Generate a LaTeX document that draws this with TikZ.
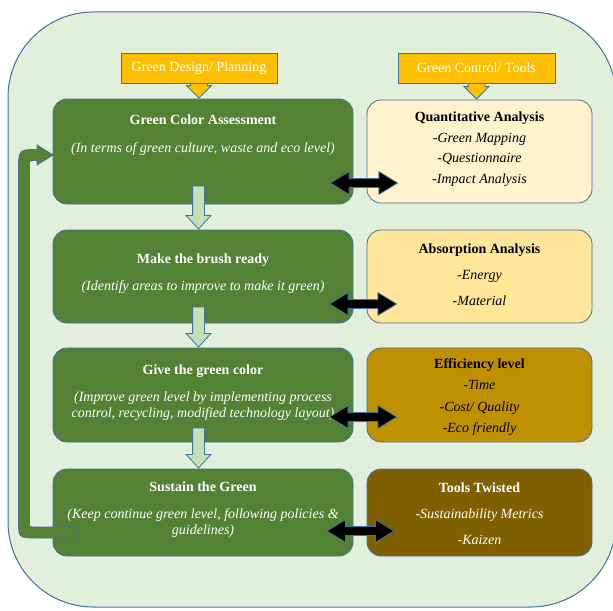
\documentclass[tikz,border=0pt]{standalone}
\usepackage{fontspec}
\setmainfont{Liberation Serif}
\usetikzlibrary{shapes.arrows}
\definecolor{outerfill}{HTML}{E2EFDA}
\definecolor{edgeblue}{HTML}{41719C}
\definecolor{leaf}{HTML}{548235}
\definecolor{gold}{HTML}{FFC000}
\definecolor{mint}{HTML}{C5E0B4}
\definecolor{sandA}{HTML}{FFF2CC}
\definecolor{sandB}{HTML}{FFE699}
\definecolor{sandC}{HTML}{BF9000}
\definecolor{sandD}{HTML}{7F6000}
\newcommand{\px}{0.75pt}
\begin{document}
\begin{tikzpicture}[x=0.75pt,y=-0.75pt,
  box/.style={draw=edgeblue,line width=0.6pt,rounded corners=10.5pt,minimum width=300*\px,inner sep=0},
  greenbox/.style={box,fill=leaf},
  toolbox/.style={box,minimum width=225*\px},
  headbox/.style={draw=edgeblue,line width=0.6pt,fill=gold,text=white,minimum width=156*\px,minimum height=30*\px,inner sep=0,font=\fontsize{10.5}{12}\selectfont},
  txt/.style={align=center,inner sep=0,font=\fontsize{10.5}{12}\selectfont},
  downarr/.style={single arrow,shape border rotate=270,draw=edgeblue,line width=0.6pt,anchor=tip},
  dblarr/.style={double arrow,draw=edgeblue,line width=0.6pt,fill=black,inner sep=4*\px,minimum height=67*\px,double arrow head extend=7*\px,double arrow tip angle=63}]
\useasboundingbox (0,0) rectangle (613,610);
% background panel
\draw[draw=edgeblue,fill=outerfill,line width=0.75pt,rounded corners=64pt] (8,12) rectangle (616,607);
% left column
\node[greenbox,minimum height=105*\px] (g1) at (203,151.5) {};
\node[greenbox,minimum height=93*\px] (g2) at (203,276.5) {};
\node[greenbox,minimum height=94*\px] (g3) at (203,395) {};
\node[greenbox,minimum height=87*\px] (g4) at (203,512.5) {};
% right column
\node[toolbox,fill=sandA,minimum height=103*\px] (t1) at (479.5,151.5) {};
\node[toolbox,fill=sandB,minimum height=93*\px] (t2) at (479.5,276.5) {};
\node[toolbox,fill=sandC,minimum height=94*\px] (t3) at (479.5,395) {};
\node[toolbox,fill=sandD,minimum height=87*\px] (t4) at (479.5,512.5) {};
% texts
\node[txt,text=white] (g1txt) at (203,135) {\textbf{Green Color Assessment}\\[8.5pt]\textit{(In terms of green culture, waste and eco level)}};
\node[txt,text=white] (g2txt) at (203,273.5) {\textbf{Make the brush ready}\\[8pt]\textit{(Identify areas to improve to make it green)}};
\node[txt,text=white] (g3txt) at (203,392.5) {\textbf{Give the green color}\\[8pt]\textit{(Improve green level by implementing process}\\\textit{control, recycling, modified technology layout)}};
\node[txt,text=white] (g4txt) at (203,509.5) {\textbf{Sustain the Green}\\[8pt]\textit{(Keep continue green level, following policies \&}\\\textit{guidelines)}};
\node[txt] (t1txt) at (479.5,149) {\textbf{Quantitative Analysis}\\[3.5pt]\textit{-Green Mapping}\\[3.5pt]\textit{-Questionnaire}\\[3.5pt]\textit{-Impact Analysis}};
\node[txt] (t2txt) at (479.5,274.5) {\textbf{Absorption Analysis}\\[7.5pt]\textit{-Energy}\\[7.5pt]\textit{-Material}};
\node[txt] (t3txt) at (479.5,397) {\textbf{Efficiency level}\\[4pt]\textit{-Time}\\[4pt]\textit{-Cost/ Quality}\\[4pt]\textit{-Eco friendly}};
\node[txt,text=white] (t4txt) at (479.5,513.5) {\textbf{Tools Twisted}\\[7.5pt]\textit{-Sustainability Metrics}\\[7.5pt]\textit{-Kaizen}};
% header arrows (drawn under the header boxes)
\node[downarr,fill=gold,inner sep=8*\px,minimum height=16*\px,single arrow head extend=4*\px,single arrow tip angle=90] (hdarr) at ([xshift=-4*\px]g1.north) {};
\node[downarr,fill=gold,inner sep=8*\px,minimum height=17*\px,single arrow head extend=4*\px,single arrow tip angle=90] (hcarr) at ([xshift=-3*\px]t1.north) {};
% headers
\node[headbox] (hdesign) at (199,68) {Green Design/ Planning};
\node[headbox,minimum width=157*\px] (hcontrol) at (476.5,68) {Green Control/ Tools};
% flow arrows
\node[downarr,fill=mint,inner sep=5.5*\px,minimum height=43*\px,single arrow head extend=6.5*\px,single arrow tip angle=85] (a12) at ([xshift=-4.5*\px]g2.north) {};
\node[downarr,fill=mint,inner sep=5.5*\px,minimum height=40*\px,single arrow head extend=6.5*\px,single arrow tip angle=85] (a23) at ([xshift=-4.5*\px]g3.north) {};
\node[downarr,fill=mint,inner sep=5.5*\px,minimum height=40*\px,single arrow head extend=6.5*\px,single arrow tip angle=85] (a34) at ([xshift=-4.5*\px]g4.north) {};
% two-way arrows
\node[dblarr] (d1) at (364,183) {};
\node[dblarr] (d2) at (363,304) {};
\node[dblarr] (d3) at (363,417) {};
\node[dblarr] (d4) at (360.5,531) {};
% feedback loop
\draw[draw=edgeblue,fill=leaf,line width=0.6pt] (78,527) -- (78,538) -- (36,538) .. controls (18.5,538) .. (18.5,520)
  -- (18.5,172) .. controls (18.5,149.5) .. (37,149.5) -- (37,145) -- (53,155) -- (37,165) -- (37,160.5)
  -- (34,160.5) .. controls (29.5,160.5) .. (29.5,165) -- (29.5,523) .. controls (29.5,527) .. (34,527) -- cycle;
\end{tikzpicture}
\end{document}
